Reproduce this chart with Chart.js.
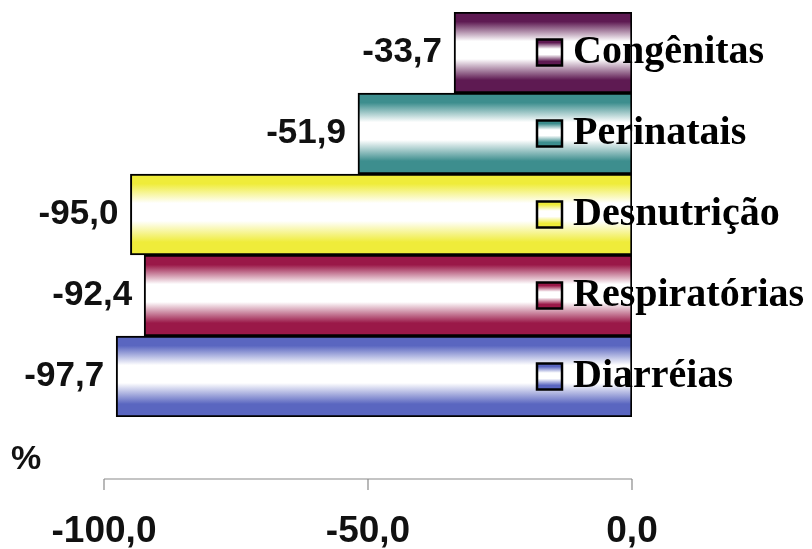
<!DOCTYPE html>
<html>
<head>
<meta charset="utf-8">
<script src="https://cdn.jsdelivr.net/npm/chart.js@4.4.0/dist/chart.umd.min.js"></script>
<style>
  html, body { margin: 0; padding: 0; background: #fff; }
  #wrap { width: 812px; height: 549px; position: relative; }
</style>
</head>
<body>
<div id="wrap"><canvas id="chart"></canvas></div>
<script>
// data (% change), top bar first
const categories = ['Congênitas', 'Perinatais', 'Desnutrição', 'Respiratórias', 'Diarréias'];
const values = [-33.7, -51.9, -95.0, -92.4, -97.7];
const barColors = ['#5e1a52', '#3d8e8e', '#efec3a', '#9a1848', '#5a66c0'];
const xTicks = [-100, -50, 0];
const unitLabel = '%';

const fmt = v => v.toFixed(1).replace('.', ',');

// cylinder look: colour at the edges, white band in the middle
function tubeGradient(ctx, top, bottom, color) {
  const g = ctx.createLinearGradient(0, top, 0, bottom);
  g.addColorStop(0, color);
  g.addColorStop(0.12, color);
  g.addColorStop(0.36, '#ffffff');
  g.addColorStop(0.58, '#ffffff');
  g.addColorStop(0.84, color);
  g.addColorStop(1, color);
  return g;
}

function barFill(c) {
  const chart = c.chart;
  const col = barColors[c.dataIndex];
  if (!chart.chartArea || !chart.scales.y) return col;
  const y = chart.scales.y;
  const mid = y.getPixelForValue(c.dataIndex);
  const h = (y.bottom - y.top) / categories.length;
  return tubeGradient(chart.ctx, mid - h / 2, mid + h / 2, col);
}

const decorations = {
  id: 'decorations',
  afterDatasetsDraw(chart) {
    const { ctx, scales: { x, y } } = chart;
    const meta = chart.getDatasetMeta(0);
    ctx.save();

    // value labels left of each bar
    ctx.font = 'bold 35px "Liberation Sans", Arial, sans-serif';
    ctx.fillStyle = '#111';
    ctx.textAlign = 'right';
    ctx.textBaseline = 'middle';
    meta.data.forEach((bar, i) => {
      ctx.fillText(fmt(values[i]), bar.x - 12, bar.y);
    });

    // legend entries sitting on the bars
    const boxX = x.right - 95, boxW = 25, boxH = 26;
    meta.data.forEach((bar, i) => {
      const top = bar.y - boxH / 2;
      ctx.fillStyle = tubeGradient(ctx, top, top + boxH, barColors[i]);
      ctx.fillRect(boxX, top, boxW, boxH);
      ctx.lineWidth = 2.5;
      ctx.strokeStyle = '#000';
      ctx.strokeRect(boxX, top, boxW, boxH);
      ctx.font = 'bold 40px "Liberation Serif", "Times New Roman", serif';
      ctx.fillStyle = '#000';
      ctx.textAlign = 'left';
      ctx.textBaseline = 'middle';
      ctx.fillText(categories[i], boxX + 36, bar.y);
    });

    // detached axis line with downward ticks
    const axisY = y.bottom + 62;
    ctx.strokeStyle = '#8a8a8a';
    ctx.lineWidth = 1.2;
    ctx.beginPath();
    ctx.moveTo(x.getPixelForValue(xTicks[0]), axisY);
    ctx.lineTo(x.getPixelForValue(xTicks[xTicks.length - 1]), axisY);
    xTicks.forEach(t => {
      const px = x.getPixelForValue(t);
      ctx.moveTo(px, axisY);
      ctx.lineTo(px, axisY + 11);
    });
    ctx.stroke();

    ctx.font = 'bold 34px "Liberation Sans", Arial, sans-serif';
    ctx.fillStyle = '#111';
    ctx.textAlign = 'left';
    ctx.textBaseline = 'middle';
    ctx.fillText(unitLabel, 11, axisY - 19);
    ctx.restore();
  }
};

new Chart(document.getElementById('chart'), {
  type: 'bar',
  data: {
    labels: categories,
    datasets: [{
      data: values,
      backgroundColor: barFill,
      borderColor: '#000',
      borderWidth: 2,
      borderSkipped: false,
      barPercentage: 1,
      categoryPercentage: 1,
    }]
  },
  options: {
    indexAxis: 'y',
    responsive: true,
    maintainAspectRatio: false,
    animation: false,
    layout: { padding: { left: 104, right: 180, top: 12, bottom: 0 } },
    plugins: { legend: { display: false }, tooltip: { enabled: false } },
    scales: {
      y: { display: false },
      x: {
        min: -100, max: 0,
        afterFit: s => { s.height = 132; s.paddingLeft = 0; s.paddingRight = 0; },
        afterBuildTicks: s => { s.ticks = xTicks.map(v => ({ value: v })); },
        grid: { display: false, drawTicks: false },
        border: { display: false },
        ticks: {
          padding: 93,
          color: '#111',
          font: { family: '"Liberation Sans", Arial, sans-serif', size: 37, weight: 'bold' },
          maxRotation: 0,
          callback: v => fmt(v),
        }
      }
    }
  },
  plugins: [decorations]
});
</script>
</body>
</html>
